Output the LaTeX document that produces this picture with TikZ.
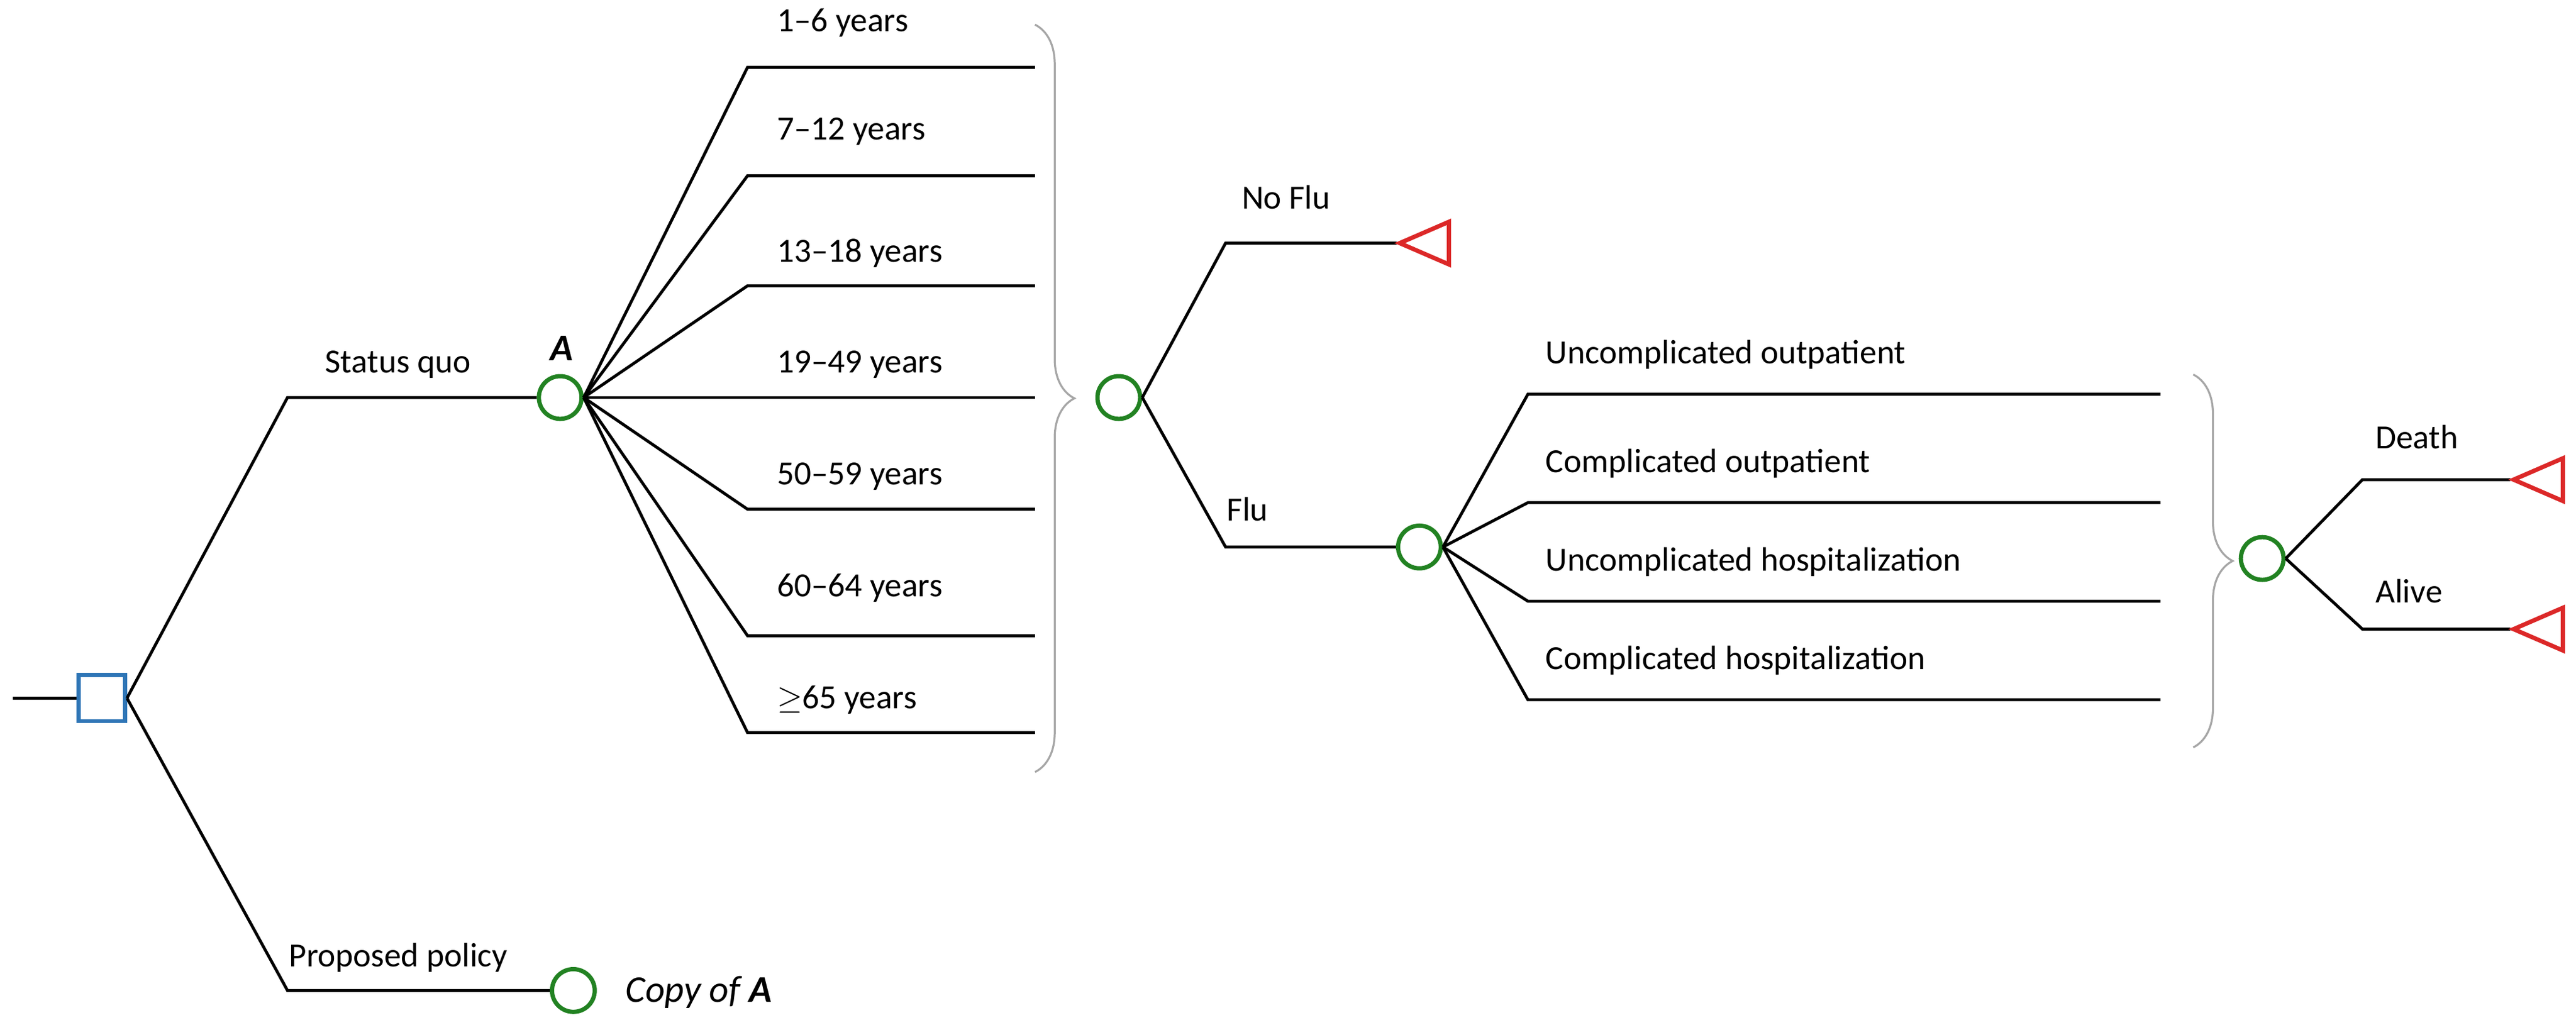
\documentclass[tikz,border=0pt]{standalone}
\usepackage{fontspec}
\setmainfont{Carlito}
\usetikzlibrary{decorations.pathreplacing}
\definecolor{cgreen}{RGB}{34,130,34}
\definecolor{cblue}{RGB}{46,117,182}
\definecolor{cred}{RGB}{220,40,40}
\begin{document}
\begin{tikzpicture}[x=0.5pt,y=-0.5pt,line width=0.9pt,
  chance/.style={circle,draw=cgreen,line width=1.3pt,minimum size=13pt,inner sep=0pt},
  decis/.style={rectangle,draw=cblue,line width=1.3pt,minimum size=14pt,inner sep=0pt},
  term/.style={draw=cred,line width=1.3pt},
  lab/.style={font=\fontsize{10.3}{12}\selectfont,anchor=west,inner sep=0pt},
  br/.style={draw=gray!70,line width=0.6pt,decorate,decoration={brace,amplitude=12pt}}]
\useasboundingbox (0,0) rectangle (1568,627);
\coordinate (r0) at (8,425);
\node[decis] (root) at (62,425) {};
\draw (r0) -- (root);
% status quo
\node[chance] (A) at (341,242) {};
\draw (root.east) -- (175,242) -- (A.west);
\node[lab] at (197,222) {Status quo};
\node[font=\fontsize{11.5}{12}\selectfont\bfseries\itshape] at (342,212) {A};
% proposed
\node[chance] (B) at (349,603) {};
\draw (root.east) -- (175,603) -- (B.west);
\node[lab] at (175,583) {Proposed policy};
\node[lab,font=\fontsize{11.5}{12}\selectfont\itshape] at (380,604) {Copy of \textbf{A}};
% ages
\foreach \y/\ly/\t in {41/14/1--6 years,107/80/7--12 years,174/154/13--18 years,242/222/19--49 years,310/290/50--59 years,387/358/60--64 years,446/426/$\geq$65 years}{
  \coordinate (e\y) at (630,\y);
  \draw (A.east) -- (455,\y) -- (e\y);
  \node[lab] at (472,\ly) {\t};
}
\draw[br] (630,15) -- (630,470);
\node[chance] (C) at (681,242) {};
% no flu
\draw (C.east) -- (746,148) -- (850,148) coordinate (nf);
\node[lab] at (755,120) {No Flu};
\draw[term] (852,148) -- (882,135) -- (882,161) -- cycle;
% flu
\node[chance] (D) at (864,333) {};
\draw (C.east) -- (746,333) -- (D.west);
\node[lab] at (746,310) {Flu};
\foreach \y/\t in {240/Uncomplicated outpatient,306/Complicated outpatient,366/Uncomplicated hospitalization,426/Complicated hospitalization}{
  \coordinate (f\y) at (1315,\y);
  \draw (D.east) -- (930,\y) -- (f\y);
  \node[lab] at (940,\y-24) {\t};
}
\draw[br] (1335,228) -- (1335,455);
\node[chance] (E) at (1377,340) {};
\draw (E.east) -- (1438,292) -- (1528,292);
\draw (E.east) -- (1438,383) -- (1528,383);
\node[lab] at (1445,266) {Death};
\node[lab] at (1445,360) {Alive};
\draw[term] (1530,292) -- (1560,279) -- (1560,305) -- cycle;
\draw[term] (1530,383) -- (1560,370) -- (1560,396) -- cycle;
\end{tikzpicture}
\end{document}
